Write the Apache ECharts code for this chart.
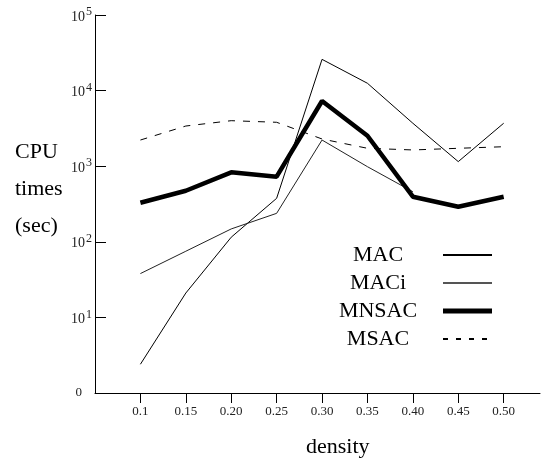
<!DOCTYPE html>
<html>
<head>
<meta charset="utf-8">
<script src="https://cdn.jsdelivr.net/npm/echarts@6/dist/echarts.min.js"></script>
<style>
  html, body { margin: 0; padding: 0; background: #fff; }
  #chart { width: 542px; height: 464px; }
</style>
</head>
<body>
<div id="chart"></div>
<script>
// densities on the x axis and their printed labels
var densities = [0.1, 0.15, 0.2, 0.25, 0.3, 0.35, 0.4, 0.45, 0.5];
var densityLabels = ["0.1", "0.15", "0.20", "0.25", "0.30", "0.35", "0.40", "0.45", "0.50"];
var yTicks = [1, 10, 100, 1000, 10000, 100000];

// CPU times (sec)
var mac = [2.4, 21, 115, 376, 25900, 12500, 3700, 1150, 3700];
var maci = [38, 75, 148, 238, 2220, 985, 460];
var mnsac = [329, 474, 830, 727, 7280, 2530, 395, 291, 395];
var msac = [2220, 3400, 4000, 3810, 2290, 1725, 1640, 1725, 1810];

var serif = "'Liberation Serif', 'Times New Roman', serif";

function pairs(ys) {
  return ys.map(function (v, i) { return [densities[i], v]; });
}

var chart = echarts.init(document.getElementById("chart"));
var option = {
  animation: false,
  backgroundColor: "#fff",
  grid: { left: 95, right: 2, top: 15, bottom: 71 },
  xAxis: {
    type: "value",
    min: 0.05,
    max: 0.54,
    splitLine: { show: false },
    axisLine: { lineStyle: { color: "#000", width: 1 } },
    axisTick: {
      customValues: densities,
      length: 10,
      lineStyle: { color: "#000" }
    },
    axisLabel: {
      customValues: densities,
      margin: 12,
      color: "#222",
      fontSize: 13,
      fontFamily: serif,
      formatter: function (v) {
        var i = densities.findIndex(function (d) { return Math.abs(d - v) < 1e-6; });
        return i >= 0 ? densityLabels[i] : "";
      }
    }
  },
  yAxis: {
    type: "log",
    logBase: 10,
    min: 1,
    max: 100000,
    splitLine: { show: false },
    minorTick: { show: false },
    axisLine: { show: true, lineStyle: { color: "#000", width: 1 } },
    axisTick: {
      show: true,
      customValues: yTicks,
      inside: true,
      length: 11,
      lineStyle: { color: "#000" }
    },
    axisLabel: {
      customValues: yTicks,
      margin: 3,
      color: "#222",
      fontFamily: serif,
      formatter: function (v) {
        var p = Math.round(Math.log10(v));
        if (p === 0) return "{z|0}";
        return "{b|10}{s|" + p + "}";
      },
      rich: {
        z: { fontSize: 13, fontFamily: serif, color: "#222", padding: [0, 10, 0, 0] },
        b: { fontSize: 14, fontFamily: serif, color: "#222", padding: [4, 0, 0, 0] },
        s: { fontSize: 12, fontFamily: serif, color: "#222", padding: [0, 0, 6, 1] }
      }
    }
  },
  legend: {
    orient: "vertical",
    left: 313,
    top: 239,
    align: "right",
    itemWidth: 49,
    itemHeight: 14,
    itemGap: 6,
    itemStyle: { opacity: 0 },
    data: [
      { name: "MAC" },
      { name: "MACi", lineStyle: { color: "#555" } },
      { name: "MNSAC", lineStyle: { width: 5 } },
      { name: "MSAC", lineStyle: { type: [5, 8] } }
    ],
    formatter: "{t|{name}}",
    textStyle: {
      rich: {
        t: { width: 120, align: "center", fontSize: 22, lineHeight: 22, fontFamily: serif, color: "#000" }
      }
    }
  },
  graphic: [
    {
      type: "text",
      left: 15,
      top: 134,
      style: {
        text: "CPU\ntimes\n(sec)",
        font: "22px " + serif,
        lineHeight: 37,
        align: "center",
        width: 46,
        fill: "#000"
      }
    },
    {
      type: "text",
      left: 306,
      top: 436,
      style: { text: "density", font: "22px " + serif, fill: "#000" }
    }
  ],
  series: [
    {
      name: "MAC",
      type: "line",
      symbol: "none",
      data: pairs(mac),
      lineStyle: { color: "#000", width: 1 },
      itemStyle: { color: "#000" }
    },
    {
      name: "MACi",
      type: "line",
      symbol: "none",
      data: pairs(maci),
      lineStyle: { color: "#222", width: 1 },
      itemStyle: { color: "#222" },
      label: {
        show: true,
        position: "left",
        distance: 5,
        fontSize: 22,
        fontFamily: serif,
        color: "#000",
        formatter: function (p) { return p.dataIndex === 0 ? "i" : ""; }
      }
    },
    {
      name: "MNSAC",
      type: "line",
      symbol: "none",
      data: pairs(mnsac),
      lineStyle: { color: "#000", width: 4.5 },
      itemStyle: { color: "#000" }
    },
    {
      name: "MSAC",
      type: "line",
      symbol: "none",
      data: pairs(msac),
      lineStyle: { color: "#000", width: 1, type: [7, 8] },
      itemStyle: { color: "#000" }
    }
  ]
};
chart.setOption(option);
</script>
</body>
</html>
